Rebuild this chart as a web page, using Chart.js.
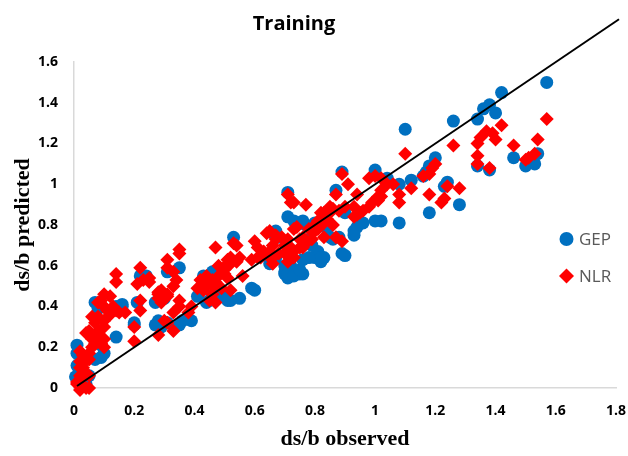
<!DOCTYPE html>
<html>
<head>
<meta charset="utf-8">
<title>Training</title>
<script src="https://cdn.jsdelivr.net/npm/chart.js@4.4.1/dist/chart.umd.min.js"></script>
<style>
  body { margin: 0; background: #fff; }
</style>
</head>
<body>
<canvas id="chart" width="628" height="456"></canvas>
<script>
// axis ticks
const xTicks = [0, 0.2, 0.4, 0.6, 0.8, 1, 1.2, 1.4, 1.6, 1.8];
const yTicks = [0, 0.2, 0.4, 0.6, 0.8, 1, 1.2, 1.4, 1.6];

// GEP (observed, predicted)
const gepX = [1.57, 1.42, 1.38, 1.36, 1.40, 1.34, 1.26, 1.10, 1.20, 1.18, 1.17, 1.12, 1.00, 0.89, 0.87,
  1.23, 1.24, 1.28, 1.18, 1.08, 1.00, 0.96, 0.93, 0.90, 1.04, 1.08, 1.46, 1.50, 1.53, 1.54, 1.34, 1.38,
  0.76, 0.77, 0.84, 0.86, 0.88, 0.89, 0.80, 0.83, 0.76, 0.71, 0.71, 0.73, 0.67, 0.53, 0.66, 0.68, 0.80,
  0.72, 0.73, 0.75, 0.70, 0.82, 0.85, 0.59, 0.55, 0.52, 0.50, 0.47, 0.45, 0.41, 0.47, 0.35, 0.24, 0.22,
  0.39, 0.36, 0.35, 0.29, 0.27, 0.20, 0.16, 0.14, 0.08, 0.14, 0.10, 0.09, 0.01, 0.01, 0.005, 0.31, 0.43,
  0.46, 0.51, 0.60, 0.44, 0.28, 0.31, 0.65, 0.67, 0.70, 0.71, 0.16, 0.21, 0.27, 0.30, 0.20, 0.02, 0.07,
  0.76, 0.78, 0.79, 0.81, 0.82, 0.78, 0.76, 0.65, 0.70, 0.71, 0.73, 0.75, 0.94, 0.93, 0.90, 1.02, 1.16,
  0.01, 0.04, 0.05, 0.07, 0.09, 0.03];
const gepY = [1.50, 1.45, 1.39, 1.37, 1.35, 1.32, 1.31, 1.27, 1.13, 1.09, 1.06, 1.02, 1.07, 1.06, 0.97,
  0.99, 1.01, 0.90, 0.86, 0.81, 0.82, 0.81, 0.77, 0.86, 1.03, 1.00, 1.13, 1.09, 1.10, 1.15, 1.09, 1.07,
  0.82, 0.80, 0.78, 0.73, 0.74, 0.66, 0.64, 0.64, 0.56, 0.96, 0.84, 0.82, 0.77, 0.74, 0.76, 0.74, 0.81,
  0.60, 0.57, 0.56, 0.57, 0.62, 0.74, 0.49, 0.44, 0.43, 0.45, 0.46, 0.43, 0.45, 0.56, 0.59, 0.55, 0.55,
  0.33, 0.33, 0.31, 0.30, 0.31, 0.31, 0.40, 0.40, 0.39, 0.25, 0.17, 0.15, 0.17, 0.11, 0.055, 0.57, 0.55,
  0.57, 0.43, 0.48, 0.42, 0.33, 0.32, 0.63, 0.64, 0.56, 0.54, 0.41, 0.42, 0.42, 0.44, 0.32, 0.08, 0.42,
  0.81, 0.73, 0.70, 0.67, 0.64, 0.64, 0.63, 0.61, 0.60, 0.56, 0.55, 0.58, 0.79, 0.75, 0.65, 0.82, 1.04,
  0.21, 0.02, 0.06, 0.14, 0.21, 0.04];

// NLR (observed, predicted)
const nlrX = [1.57, 1.42, 1.39, 1.40, 1.37, 1.35, 1.34, 1.26, 1.34, 1.34, 1.38, 1.46, 1.54, 1.53, 1.51,
  1.50, 1.10, 1.20, 1.19, 1.18, 1.16, 1.24, 1.28, 1.23, 1.18, 1.12, 1.08, 1.08, 1.06, 1.04, 1.02, 1.02,
  1.00, 0.98, 1.01, 0.99, 0.89, 0.91, 0.87, 0.94, 0.93, 0.94, 0.96, 0.90, 0.88, 0.77, 0.85, 0.83, 0.81,
  0.80, 0.78, 0.76, 0.83, 0.89, 0.77, 1.22, 0.98, 0.95, 0.93, 1.01, 0.86, 0.85, 0.84, 0.83, 0.81, 0.80,
  0.79, 0.77, 0.76, 0.75, 0.73, 0.72, 0.71, 0.65, 0.67, 0.69, 0.70, 0.70, 0.60, 0.61, 0.65, 0.71, 0.72,
  0.64, 0.53, 0.47, 0.35, 0.73, 0.73, 1.02, 0.35, 0.31, 0.31, 0.33, 0.22, 0.23, 0.25, 0.14, 0.14, 0.34,
  0.33, 0.31, 0.29, 0.28, 0.29, 0.35, 0.35, 0.22, 0.22, 0.39, 0.38, 0.31, 0.33, 0.28, 0.20, 0.20, 0.30,
  0.10, 0.09, 0.12, 0.13, 0.11, 0.08, 0.12, 0.15, 0.17, 0.07, 0.10, 0.05, 0.04, 0.08, 0.10, 0.07, 0.10,
  0.02, 0.03, 0.05, 0.02, 0.03, 0.05, 0.02, 0.01, 0.03, 0.05, 0.02, 0.28, 0.31, 0.33, 0.21, 0.25, 0.08,
  0.06, 0.09, 0.06, 0.05, 0.03, 0.02, 0.04, 0.02, 0.01, 0.04, 0.08, 0.10, 0.14, 0.06, 0.10, 0.51, 0.48,
  0.50, 0.51, 0.47, 0.46, 0.44, 0.42, 0.43, 0.41, 0.45, 0.47, 0.52, 0.56, 0.61, 0.63, 0.66, 0.68, 0.74,
  0.75, 0.72, 0.73, 0.82, 0.86, 0.87, 0.44, 0.46, 0.48, 0.46, 0.49, 0.50, 0.51, 0.52, 0.54, 0.52, 0.55,
  0.59, 0.62, 0.65, 0.66, 0.67, 0.71, 0.66, 0.54, 0.28];
const nlrY = [1.32, 1.29, 1.25, 1.22, 1.26, 1.23, 1.20, 1.19, 1.14, 1.10, 1.08, 1.19, 1.22, 1.15, 1.13,
  1.12, 1.15, 1.10, 1.08, 1.05, 1.04, 0.99, 0.98, 0.93, 0.95, 0.98, 0.91, 0.95, 1.00, 1.00, 0.97, 0.94,
  1.04, 1.03, 0.92, 0.91, 1.05, 1.00, 0.95, 0.95, 0.89, 0.85, 0.87, 0.89, 0.87, 0.90, 0.89, 0.86, 0.82,
  0.80, 0.78, 0.74, 0.74, 0.72, 0.72, 0.91, 0.89, 0.86, 0.84, 0.94, 0.88, 0.86, 0.83, 0.81, 0.78, 0.77,
  0.73, 0.71, 0.69, 0.69, 0.67, 0.64, 0.62, 0.77, 0.75, 0.74, 0.70, 0.66, 0.72, 0.69, 0.64, 0.95, 0.91,
  0.76, 0.71, 0.69, 0.68, 0.78, 0.91, 1.03, 0.66, 0.63, 0.59, 0.57, 0.59, 0.53, 0.54, 0.56, 0.52, 0.53,
  0.50, 0.46, 0.48, 0.44, 0.42, 0.43, 0.40, 0.43, 0.38, 0.40, 0.37, 0.32, 0.28, 0.26, 0.30, 0.23, 0.33,
  0.46, 0.43, 0.45, 0.40, 0.38, 0.35, 0.36, 0.37, 0.37, 0.32, 0.30, 0.28, 0.27, 0.26, 0.24, 0.22, 0.20,
  0.18, 0.16, 0.14, 0.13, 0.10, 0.06, 0.06, 0.03, 0.01, 0.00, -0.01, 0.46, 0.45, 0.37, 0.51, 0.52, 0.28,
  0.24, 0.22, 0.20, 0.17, 0.12, 0.10, 0.07, 0.04, 0.02, 0.00, 0.42, 0.40, 0.38, 0.35, 0.33, 0.63, 0.60,
  0.56, 0.54, 0.52, 0.50, 0.55, 0.53, 0.48, 0.49, 0.43, 0.42, 0.48, 0.55, 0.64, 0.67, 0.64, 0.66, 0.79,
  0.73, 0.69, 0.64, 0.86, 0.80, 0.74, 0.51, 0.53, 0.55, 0.46, 0.49, 0.58, 0.61, 0.61, 0.62, 0.64, 0.64,
  0.63, 0.64, 0.67, 0.70, 0.73, 0.73, 0.61, 0.70, 0.47];

// 1:1 line
const lineX = [0.01, 1.81];
const lineY = [0.01, 1.81];

const BLUE = "#0070C0";
const RED = "#FF0000";

function toPoints(xs, ys) {
  return xs.map((x, i) => ({ x: x, y: ys[i] }));
}

//Title and legend drawn by hand
const decorations = {
  id: "decorations",
  afterDraw(chart) {
    let ctx = chart.ctx;
    ctx.save();
    ctx.fillStyle = "#000";
    ctx.font = "bold 20px 'Open Sans'";
    ctx.textAlign = "center";
    ctx.textBaseline = "middle";
    ctx.fillText("Training", 294, 24);

    // GEP
    ctx.fillStyle = BLUE;
    ctx.beginPath();
    ctx.arc(566.5, 239, 7, 0, Math.PI * 2);
    ctx.fill();
    // NLR
    ctx.fillStyle = RED;
    ctx.beginPath();
    ctx.moveTo(566.5, 268.5);
    ctx.lineTo(574, 276);
    ctx.lineTo(566.5, 283.5);
    ctx.lineTo(559, 276);
    ctx.closePath();
    ctx.fill();

    ctx.fillStyle = "#595959";
    ctx.font = "17px 'Open Sans'";
    ctx.textAlign = "left";
    ctx.fillText("GEP", 579, 240);
    ctx.fillText("NLR", 579, 277);
    ctx.restore();
  },
};

new Chart(document.getElementById("chart"), {
  type: "scatter",
  data: {
    datasets: [
      {
        label: "Line",
        data: toPoints(lineX, lineY),
        showLine: true,
        borderColor: "#000",
        borderWidth: 2,
        pointRadius: 0,
        clip: false,
        order: 0,
      },
      {
        label: "NLR",
        data: toPoints(nlrX, nlrY),
        pointStyle: "rectRot",
        pointRadius: 7,
        backgroundColor: RED,
        borderColor: RED,
        borderWidth: 0,
        clip: false,
        order: 1,
      },
      {
        label: "GEP",
        data: toPoints(gepX, gepY),
        pointStyle: "circle",
        pointRadius: 6.5,
        backgroundColor: BLUE,
        borderColor: BLUE,
        borderWidth: 0,
        clip: false,
        order: 2,
      },
    ],
  },
  options: {
    responsive: false,
    animation: false,
    events: [],
    layout: { padding: { top: 62, right: 12, left: 0, bottom: 0 } },
    plugins: {
      legend: { display: false },
      title: { display: false },
      tooltip: { enabled: false },
    },
    scales: {
      x: {
        type: "linear",
        min: 0,
        max: 1.8,
        afterBuildTicks: (scale) => {
          scale.ticks = xTicks.map((v) => ({ value: v }));
        },
        afterFit: (scale) => {
          scale.height = 68;
          scale.paddingLeft = 0;
          scale.paddingRight = 0;
        },
        grid: { display: false, drawTicks: false },
        border: { display: true, color: "#d9d9d9", width: 1.5 },
        ticks: {
          padding: 15,
          color: "#000",
          font: { family: "'Open Sans'", size: 14, weight: "bold" },
          callback: (v) => String(+v.toFixed(1)),
        },
        title: {
          display: true,
          text: "ds/b observed",
          color: "#000",
          font: { family: "'Liberation Serif'", size: 22, weight: "bold" },
          padding: { top: 0, bottom: 3 },
        },
      },
      y: {
        type: "linear",
        min: 0,
        max: 1.6,
        afterBuildTicks: (scale) => {
          scale.ticks = yTicks.map((v) => ({ value: v }));
        },
        afterFit: (scale) => {
          scale.width = 74;
        },
        grid: { display: false, drawTicks: false },
        border: { display: true, color: "#d9d9d9", width: 1.5 },
        ticks: {
          padding: 16,
          color: "#000",
          font: { family: "'Open Sans'", size: 14, weight: "bold" },
          callback: (v) => String(+v.toFixed(1)),
        },
        title: {
          display: true,
          text: "ds/b predicted",
          color: "#000",
          font: { family: "'Liberation Serif'", size: 22, weight: "bold" },
          padding: { top: 10, bottom: 0 },
        },
      },
    },
  },
  plugins: [decorations],
});
</script>
</body>
</html>
